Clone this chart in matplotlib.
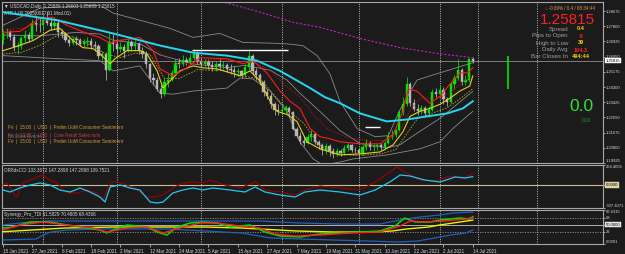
import numpy as np
import pandas as pd
import matplotlib
matplotlib.use("Agg")
import matplotlib.pyplot as plt

plt.rcParams['font.family'] = ['Liberation Sans', 'DejaVu Sans']

# ---------------------------------------------------------------- data
dates = pd.bdate_range("2021-01-15", "2021-07-14")          # 129 daily bars
first_open = 1.2700
closes = [
    1.2740, 1.2745, 1.2720, 1.2660, 1.2665, 1.2715, 1.2730, 1.2705, 1.2800, 1.2790,
    1.2785, 1.2815, 1.2800, 1.2780, 1.2800, 1.2745, 1.2735, 1.2700, 1.2685, 1.2705,
    1.2700, 1.2680, 1.2690, 1.2695, 1.2670, 1.2665, 1.2610, 1.2620, 1.2530, 1.2690,
    1.2680, 1.2650, 1.2660, 1.2640, 1.2690, 1.2665, 1.2680, 1.2640, 1.2620, 1.2560,
    1.2480, 1.2470, 1.2420, 1.2390, 1.2460, 1.2470, 1.2510, 1.2570, 1.2565, 1.2585,
    1.2575, 1.2595, 1.2620, 1.2580, 1.2565, 1.2575, 1.2555, 1.2545, 1.2560, 1.2550,
    1.2555, 1.2535, 1.2530, 1.2515, 1.2520, 1.2500, 1.2545, 1.2610, 1.2520, 1.2500,
    1.2460, 1.2400, 1.2380, 1.2330, 1.2300, 1.2290, 1.2300, 1.2310, 1.2285, 1.2190,
    1.2150, 1.2120, 1.2110, 1.2140, 1.2160, 1.2115, 1.2095, 1.2070, 1.2090, 1.2060,
    1.2045, 1.2060, 1.2050, 1.2080, 1.2095, 1.2070, 1.2065, 1.2050, 1.2085, 1.2110,
    1.2085, 1.2090, 1.2095, 1.2085, 1.2105, 1.2150, 1.2155, 1.2180, 1.2285, 1.2330,
    1.2450, 1.2340, 1.2305, 1.2290, 1.2310, 1.2280, 1.2300, 1.2400, 1.2390, 1.2415,
    1.2360, 1.2345, 1.2445, 1.2480, 1.2530, 1.2460, 1.2470, 1.25889, 1.25815,
]
highs = [
    1.2760, 1.2770, 1.2760, 1.2735, 1.2690, 1.2725, 1.2760, 1.2745, 1.2820, 1.2840,
    1.2830, 1.2845, 1.2870, 1.2835, 1.2830, 1.2815, 1.2765, 1.2750, 1.2715, 1.2720,
    1.2725, 1.2710, 1.2705, 1.2720, 1.2715, 1.2695, 1.2680, 1.2640, 1.2630, 1.2740,
    1.2735, 1.2700, 1.2690, 1.2680, 1.2715, 1.2700, 1.2700, 1.2690, 1.2660, 1.2635,
    1.2570, 1.2510, 1.2490, 1.2450, 1.2485, 1.2510, 1.2530, 1.2590, 1.2595, 1.2615,
    1.2605, 1.2620, 1.2650, 1.2635, 1.2600, 1.2590, 1.2590, 1.2580, 1.2580, 1.2590,
    1.2580, 1.2570, 1.2565, 1.2550, 1.2540, 1.2530, 1.2560, 1.2650, 1.2620, 1.2540,
    1.2510, 1.2470, 1.2420, 1.2395, 1.2345, 1.2330, 1.2320, 1.2325, 1.2320, 1.2290,
    1.2200, 1.2170, 1.2150, 1.2160, 1.2180, 1.2170, 1.2125, 1.2110, 1.2105, 1.2100,
    1.2080, 1.2080, 1.2075, 1.2095, 1.2110, 1.2100, 1.2085, 1.2080, 1.2100, 1.2130,
    1.2120, 1.2100, 1.2110, 1.2110, 1.2120, 1.2170, 1.2180, 1.2190, 1.2300, 1.2375,
    1.2487, 1.2460, 1.2360, 1.2330, 1.2325, 1.2320, 1.2320, 1.2420, 1.2425, 1.2440,
    1.2430, 1.2375, 1.2460, 1.2500, 1.2590, 1.2540, 1.2500, 1.2600, 1.26003,
]
lows = [
    1.2680, 1.2715, 1.2700, 1.2640, 1.2620, 1.2650, 1.2690, 1.2690, 1.2700, 1.2755,
    1.2750, 1.2760, 1.2790, 1.2760, 1.2765, 1.2720, 1.2710, 1.2690, 1.2665, 1.2670,
    1.2675, 1.2665, 1.2660, 1.2665, 1.2650, 1.2640, 1.2590, 1.2580, 1.2468, 1.2520,
    1.2640, 1.2620, 1.2630, 1.2600, 1.2630, 1.2640, 1.2635, 1.2620, 1.2600, 1.2540,
    1.2460, 1.2440, 1.2405, 1.2365, 1.2380, 1.2430, 1.2465, 1.2500, 1.2540, 1.2550,
    1.2555, 1.2565, 1.2585, 1.2560, 1.2545, 1.2550, 1.2535, 1.2525, 1.2520, 1.2530,
    1.2535, 1.2515, 1.2505, 1.2490, 1.2495, 1.2480, 1.2490, 1.2530, 1.2500, 1.2470,
    1.2440, 1.2380, 1.2360, 1.2310, 1.2270, 1.2270, 1.2270, 1.2275, 1.2265, 1.2180,
    1.2135, 1.2100, 1.2090, 1.2100, 1.2120, 1.2100, 1.2075, 1.2040, 1.2045, 1.2030,
    1.2020, 1.2030, 1.2030, 1.2040, 1.2060, 1.2055, 1.2050, 1.2015, 1.2040, 1.2070,
    1.2065, 1.2060, 1.2070, 1.2065, 1.2070, 1.2100, 1.2130, 1.2140, 1.2170, 1.2270,
    1.2320, 1.2320, 1.2290, 1.2270, 1.2275, 1.2260, 1.2260, 1.2290, 1.2370, 1.2370,
    1.2330, 1.2320, 1.2340, 1.2420, 1.2470, 1.2440, 1.2440, 1.2460, 1.25689,
]
opens = [first_open] + closes[:-1]

# overlay lines on the price chart: (bar index, price)
ma_cyan_x = [0, 14.7, 30, 42.8, 51.8, 61, 69.2, 75.5, 83.7, 87.7, 91.8, 97.3, 104.6, 110, 115.5, 121, 125.3, 128]
ma_cyan_y = [1.2862, 1.2815, 1.2739, 1.2669, 1.2628, 1.2611, 1.2582, 1.2523, 1.2424, 1.2372, 1.2337, 1.2278,
             1.2232, 1.2243, 1.2261, 1.2278, 1.2307, 1.2348]
ma_magenta_x = [51, 60, 70, 79, 86.4, 97.3, 108.2, 119, 128]
ma_magenta_y = [1.2937, 1.2920, 1.2862, 1.2803, 1.2774, 1.2710, 1.2657, 1.2622, 1.2599]
red_x = [0, 4.6, 10.1, 13.6, 17.4, 22.9, 26.4, 29.2, 31.9, 37.3, 40.9, 42.8, 46.3, 50.1, 53.7, 61, 65.4, 68.1,
         71.9, 75.5, 78.2, 80.9, 83.7, 86.4, 89.1, 91.8, 97.3, 102.7, 106.3, 109, 110.4, 112.8, 116.3, 119.1,
         121.8, 124.5, 126.7, 128]
red_y = [1.2745, 1.2751, 1.2827, 1.2832, 1.2786, 1.2739, 1.2716, 1.2681, 1.2698, 1.2716, 1.2640, 1.2535, 1.2494,
         1.2541, 1.2599, 1.2593, 1.2564, 1.2582, 1.2512, 1.2407, 1.2348, 1.2307, 1.2191, 1.2144, 1.2132, 1.2115,
         1.2103, 1.2103, 1.2156, 1.2290, 1.2418, 1.2407, 1.2337, 1.2377, 1.2447, 1.2512, 1.2512, 1.2541]
red_dot_x = [0, 6, 12, 16, 21, 26, 30, 34, 39, 43, 47, 52, 58, 64, 69, 73, 77, 81, 85, 89, 94, 100, 105, 108,
             111, 114, 118, 122, 126, 128]
red_dot_y = [1.2760, 1.2770, 1.2815, 1.2820, 1.2780, 1.2735, 1.2700, 1.2705, 1.2700, 1.2620, 1.2560, 1.2570,
             1.2590, 1.2580, 1.2570, 1.2520, 1.2440, 1.2370, 1.2260, 1.2180, 1.2140, 1.2120, 1.2125, 1.2170,
             1.2300, 1.2370, 1.2360, 1.2400, 1.2470, 1.2500]
yel_x = [0, 2.7, 8.2, 12.8, 15.5, 19.1, 21.8, 24.5, 26.4, 29.2, 30.5, 33.8, 37.3, 39.2, 42, 43.6, 45.5, 48.2,
         51.8, 54.5, 58.3, 61.9, 64.6, 67.3, 70, 72.8, 74.7, 77.4, 80.1, 82.8, 86.4, 89.1, 91.8, 97.3, 102.7,
         106.3, 109, 110.9, 113.6, 116.3, 119.1, 121.8, 124.5, 127.2, 128]
yel_y = [1.2640, 1.2657, 1.2698, 1.2757, 1.2768, 1.2698, 1.2657, 1.2652, 1.2622, 1.2564, 1.2593, 1.2640, 1.2640,
         1.2622, 1.2523, 1.2424, 1.2465, 1.2523, 1.2552, 1.2541, 1.2535, 1.2512, 1.2494, 1.2523, 1.2465, 1.2348,
         1.2290, 1.2272, 1.2232, 1.2115, 1.2074, 1.2056, 1.2039, 1.2045, 1.2056, 1.2097, 1.2173, 1.2261, 1.2290,
         1.2307, 1.2331, 1.2366, 1.2407, 1.2436, 1.2494]
yel_dash_x = [0, 5, 10, 15, 19, 24, 28, 32, 36, 40, 44, 48, 53, 60, 66, 70, 74, 78, 82, 86, 90, 96, 103, 107,
              110, 113, 117, 121, 125, 128]
yel_dash_y = [1.2620, 1.2630, 1.2670, 1.2730, 1.2720, 1.2670, 1.2620, 1.2600, 1.2625, 1.2620, 1.2480, 1.2480,
              1.2530, 1.2525, 1.2490, 1.2480, 1.2380, 1.2290, 1.2220, 1.2100, 1.2050, 1.2035, 1.2045, 1.2070,
              1.2160, 1.2250, 1.2280, 1.2310, 1.2370, 1.2420]
bb_up_x = [0, 10.1, 26.4, 30, 37.3, 45.5, 51.8, 59.1, 65.4, 76.3, 81.7, 85.6, 89.1, 91.8, 96.5, 101.4, 105,
           108.2, 112.8, 116.3, 122.6, 128]
bb_up_y = [1.2786, 1.2885, 1.2902, 1.2856, 1.2815, 1.2768, 1.2716, 1.2739, 1.2687, 1.2681, 1.2669, 1.2611,
           1.2506, 1.2348, 1.2191, 1.2144, 1.2150, 1.2300, 1.2470, 1.2494, 1.2535, 1.2570]
bb_mid_x = [0, 10, 20, 26.4, 30, 37.3, 42.8, 51.8, 61, 66, 72.8, 77.4, 80.9, 86.4, 91.8, 97.3, 104.6, 108.2,
            113.6, 119.1, 128]
bb_mid_y = [1.2730, 1.2725, 1.2745, 1.2735, 1.2700, 1.2680, 1.2615, 1.2563, 1.2542, 1.2555, 1.2527, 1.2470,
            1.2395, 1.2289, 1.2180, 1.2105, 1.2079, 1.2098, 1.2175, 1.2250, 1.2405]
bb_lo_x = [0, 10.1, 26.4, 30, 37.3, 42.8, 46.3, 51.8, 61, 64.6, 68.1, 72.8, 77.4, 80.9, 84.5, 87.2, 91.8, 95.4,
           104.6, 113.6, 119.1, 122.6, 126.4, 128]
bb_lo_y = [1.2611, 1.2599, 1.2582, 1.2523, 1.2552, 1.2395, 1.2389, 1.2407, 1.2424, 1.2482, 1.2477, 1.2407,
           1.2290, 1.2115, 1.2016, 1.1981, 1.1998, 1.2016, 1.2039, 1.2074, 1.2115, 1.2191, 1.2261, 1.2290]
hlines_level = [1.2644, 1.2201]          # drawn trend/level lines
hlines_from = [51.5, 98.6]
hlines_to = [77.7, 102.7]
extra_separators = [129.4, 145.5]
range_bar_x = 137.6
range_bar_lo, range_bar_hi = 1.2418, 1.2611

price_ticks = [1.28675, 1.27800, 1.26925, 1.26050, 1.25175, 1.24300, 1.23425, 1.22550, 1.21675, 1.20800, 1.19925]
price_min, price_max = 1.19925, 1.2920

# CCI sub-window: (bar, value)
cci_blue_x = [0, 1.9, 4.6, 7.4, 10.1, 12.8, 15.5, 18.3, 21, 23.7, 26.4, 27.8, 29.2, 31.9, 34.6, 37.3, 40.1, 42,
              43.6, 46.3, 49, 51.8, 54.5, 57.2, 61.9, 65.9, 68.7, 71.4, 75.5, 79.6, 82.3, 86.4, 91.8, 97.3, 101.4,
              105.4, 108.2, 110.9, 114.9, 119.1, 123.2, 125.9, 128]
cci_blue_y = [-67.9, -94.4, -41.3, -1.4, 25.2, -1.4, -67.9, -94.4, -41.3, -94.4, -160.9, -227.3, -28, -1.4, -41.3,
              -67.9, -227.3, -240.6, -227.3, -107.7, -67.9, -41.3, -67.9, -41.3, -67.9, -94.4, -28, -94.4, -134.3,
              -160.9, -94.4, -67.9, -94.4, -134.3, -67.9, 38.5, 131.5, 118.2, 65.1, 38.5, 104.9, 91.6, 109.75]
cci_red_x = [0, 1.1, 2.7, 3.8, 5.4, 7.4, 9.3, 10.9, 12.8, 14.7, 17.4, 20.2, 22.9, 25.6, 27.2, 29.2, 31.1, 33.8,
             36.5, 39.2, 40.9, 43.6, 46.3, 49, 51.8, 54.5, 56.4, 60.5, 64.6, 68.7, 71.4, 75.5, 79.6, 82.3, 86.4,
             91.8, 97.3, 101.4, 105.4, 107.4, 109.5, 113.6, 117.7, 121.8, 125.3, 128]
cci_red_y = [-1.4, 25.2, -107.7, -160.9, 25.2, 65.1, 104.9, 131.5, 65.1, 25.2, -107.7, -107.7, -67.9, -107.7,
             -200.8, 38.5, 38.5, -1.4, -67.9, -160.9, -160.9, -134.3, -41.3, 25.2, 38.5, 25.2, 65.1, -1.4, -41.3,
             38.5, -67.9, -94.4, -134.3, -67.9, -14.7, -41.3, -67.9, 38.5, 171.4, 237.8, 171.4, 65.1, 51.8,
             118.2, 91.6, 147.29]
cci_min, cci_max = -307.1071, 264.4055

# Synergy TDI sub-window: (bar, value)
tdi_green_x = [0, 2.7, 7.4, 12.8, 17.4, 22.9, 26.4, 28.3, 30, 33.8, 39.2, 42, 44.7, 47.4, 51, 54.5, 58.3, 61.9,
               67.3, 71.4, 75.5, 80.9, 86.4, 91.8, 97.3, 102.7, 106.8, 109.5, 112.3, 116.3, 119.1, 121.8, 124.5,
               127.2, 128]
tdi_green_y = [41.2, 43.8, 56.7, 56.7, 49, 41.2, 36.1, 28.3, 36.1, 49, 43.8, 30.9, 23.2, 43.8, 54.1, 56.7, 54.1,
               43.8, 49, 30.9, 20.6, 18, 25.8, 28.3, 30.9, 33.5, 46.4, 67, 56.7, 56.7, 61.8, 64.4, 67, 64.4, 70.48]
tdi_red_x = [0, 4.6, 10.9, 17.4, 24.5, 28.3, 33.8, 39.2, 43.6, 48.2, 53.7, 58.3, 64.6, 70, 74.1, 79.6, 86.4, 94.6,
             102.7, 108.2, 110.9, 115, 120.4, 125.9, 128]
tdi_red_y = [36.1, 49, 56.7, 49, 41.2, 30.9, 41.2, 43.8, 28.3, 41.2, 54.1, 54.1, 46.4, 41.2, 25.8, 20.6, 23.2,
             28.3, 30.9, 46.4, 59.3, 56.7, 59.3, 64.4, 68.44]
tdi_up_x = [0, 4.6, 8.2, 12.8, 70, 80.9, 91.8, 102.7, 108.2, 113.6, 119.1, 122.6, 128]
tdi_up_y = [49, 54.1, 56.7, 59.3, 59.3, 54.1, 51.5, 51.5, 61.8, 69.6, 74.7, 79.9, 82.5]
tdi_lo_x = [0, 9, 11, 13, 17.4, 26.4, 45, 55, 65, 73, 81, 108, 113, 119, 122, 126, 128]
tdi_lo_y = [10.3, 12.9, 23.2, 30.9, 36.1, 38.7, 38.7, 33.5, 28.3, 15.5, 12.9, 5.2, 7.7, 18, 23.2, 28.3, 36]
tdi_base_x = [0, 8, 17, 30, 55, 65, 70, 80, 90, 100, 106, 110, 116, 119, 128]
tdi_base_y = [31.7, 36.1, 41.2, 43.8, 43.8, 41.2, 38.7, 33.5, 30.9, 30.9, 33.5, 38.7, 43.8, 49, 61.58]
tdi_levels = [68, 50, 32]
tdi_min, tdi_max = 0.0001, 87.6315

date_labels = ["15 Jan 2021", "27 Jan 2021", "8 Feb 2021", "18 Feb 2021", "2 Mar 2021", "12 Mar 2021",
               "24 Mar 2021", "5 Apr 2021", "15 Apr 2021", "27 Apr 2021", "7 May 2021", "19 May 2021",
               "31 May 2021", "10 Jun 2021", "22 Jun 2021", "2 Jul 2021", "14 Jul 2021"]
label_step = 8

# ---------------------------------------------------------------- style
W, H = 625, 254
BG = '#1b1b1b'
FRAME = '#a8a8a8'
TXT = '#d8d8d8'
BULL = '#00e600'
BEAR = '#b8b8b8'
FS = 3.3
FSR = 3.0

fig = plt.figure(figsize=(W / 100, H / 100), dpi=100, facecolor=BG)


def box(l, t, r, b):
    return [l / W, 1 - b / H, (r - l) / W, (b - t) / H]


ax = fig.add_axes(box(2, 2, 603, 163))
axc = fig.add_axes(box(2, 165, 603, 208), sharex=ax)
axs = fig.add_axes(box(2, 210, 603, 244), sharex=ax)

for a in (ax, axc, axs):
    a.set_facecolor(BG)
    for s in a.spines.values():
        s.set_color(FRAME)
        s.set_linewidth(0.8)
    a.yaxis.tick_right()
    a.tick_params(axis='y', colors=TXT, labelsize=FSR, length=1.5, width=0.5, pad=0.8)
    a.tick_params(axis='x', colors=TXT, labelsize=FS, length=2, width=0.5, pad=1.5)

ax.set_xlim(-0.27, 163.5)

# month separators
month_starts = [i for i in range(1, len(dates)) if dates[i].month != dates[i - 1].month]
for a in (ax, axc, axs):
    for m in month_starts + extra_separators:
        a.axvline(m, color='#d0d0d0', lw=0.6, ls=(0, (1.2, 1.6)), zorder=1)

# ---------------------------------------------------------------- price
idx = np.arange(len(closes))
o = np.array(opens)
c = np.array(closes)
h = np.array(highs)
l = np.array(lows)
up = c >= o
cols = np.where(up, BULL, BEAR)
for bx, by in ((bb_up_x, bb_up_y), (bb_mid_x, bb_mid_y), (bb_lo_x, bb_lo_y)):
    ax.plot(bx, by, color='#8a8a8a', lw=0.6, zorder=2)
ax.plot(ma_magenta_x, ma_magenta_y, color='#c020c0', lw=0.8, ls=(0, (2, 1.5)), zorder=2)
ax.axhline(closes[-1], color='#8c8c8c', lw=0.6, zorder=2)
ax.vlines(idx, l, h, colors=cols, lw=0.55, zorder=3)
ax.bar(idx, np.abs(c - o), bottom=np.minimum(o, c), width=0.62, color=cols, edgecolor=cols, lw=0.3, zorder=4)
ax.plot(yel_dash_x, yel_dash_y, color='#b0a020', lw=0.6, ls=(0, (2, 1.5)), zorder=5)
ax.plot(yel_x, yel_y, color='#e0d020', lw=0.8, zorder=5)
ax.plot(red_dot_x, red_dot_y, color='#c01010', lw=0.6, ls=(0, (1.5, 1.5)), zorder=5)
ax.plot(red_x, red_y, color='#ff1a1a', lw=0.8, zorder=5)
ax.plot(ma_cyan_x, ma_cyan_y, color='#22d8f0', lw=1.4, zorder=6)
ax.hlines(hlines_level, hlines_from, hlines_to, colors='white', lw=1.0, zorder=6)
ax.vlines([range_bar_x], [range_bar_lo], [range_bar_hi], colors=BULL, lw=1.2, zorder=6)

ax.set_ylim(price_min, price_max)
ax.set_yticks(price_ticks)
ax.set_yticklabels([f"{v:.5f}" for v in price_ticks])
ax.get_yticklabels()[-1].set_va('bottom')
ax.annotate(f"{closes[-1]:.5f}", xy=(1.0, closes[-1]), xycoords=('axes fraction', 'data'),
            xytext=(2.2, 0), textcoords='offset points', va='center', ha='left', fontsize=FSR, color='black',
            bbox=dict(boxstyle='square,pad=0.15', fc='white', ec='white', lw=0.3))
plt.setp(ax.get_xticklabels(), visible=False)
ax.tick_params(axis='x', length=0)

# header texts
ax.text(0.004, 0.985, "\u25bc USDCAD,Daily  1.25889 1.26003 1.25689 1.25815", transform=ax.transAxes,
        fontsize=FS, color=TXT, va='top', ha='left')
ax.text(0.004, 0.945, "ATR 1-00 2005(0017.01 Mod.01)", transform=ax.transAxes,
        fontsize=FS, color=TXT, va='top', ha='left')

# calendar texts
ev_y = [128, 135, 142]
ev_txt = ["Fri  |  15:00  |  USD  |  Prelim UoM Consumer Sentiment",
          "Fri  |  13:30  |  USD  |  Core Retail Sales m/m",
          "Fri  |  15:00  |  USD  |  Prelim UoM Consumer Sentiment"]
ev_col = ['#d89a3a', '#d83a3a', '#d89a3a']
for yy, t, cc in zip(ev_y, ev_txt, ev_col):
    fig.text(8 / W, 1 - yy / H, t, fontsize=FS, color=cc, va='center', ha='left')
fig.text(8 / W, 1 - 136.5 / H, "No More Events", fontsize=FS, color='#808080', va='center', ha='left', alpha=0.8)

# info panel
fig.text(595 / W, 1 - 8 / H, "\u2193 -0.09% / 0.4 / 08:34:44", fontsize=FS, color='#d89a50', ha='right', va='center')
fig.text(595 / W, 1 - 20 / H, f"{closes[-1]:.5f}", fontsize=11, color='#ff2020', ha='right', va='center')
info_lab = ["Spread", "Pips to Open", "High to Low", "Daily Avg", "Bar Closes In"]
info_val = ["0.4", "-5", "39", "104.3", "494:44"]
info_col = ['#f0d000', '#ff2020', '#f0d000', '#ff2020', '#f0d000']
for k, (lab, val, vc) in enumerate(zip(info_lab, info_val, info_col)):
    yy = 29 + 7 * k
    fig.text(568 / W, 1 - yy / H, lab, fontsize=4.4, color='#a0a0a0', ha='right', va='center')
    fig.text(581 / W, 1 - yy / H, val, fontsize=4.0, color=vc, ha='center', va='center', weight='bold')
fig.text(581.5 / W, 1 - 107 / H, "0.0", fontsize=12.5, color='#33e033', ha='center', va='center')
fig.text(586 / W, 1 - 120 / H, "0.0", fontsize=4.6, color='#22a022', ha='center', va='center')

# ---------------------------------------------------------------- CCI
axc.axhline(0, color='#cdbf90', lw=0.8, zorder=2)
axc.plot(cci_red_x, cci_red_y, color='#a00000', lw=0.8, zorder=3)
axc.plot(cci_blue_x, cci_blue_y, color='#1ec8f5', lw=0.9, zorder=4)
axc.set_ylim(cci_min, cci_max)
axc.set_yticks([cci_max, 0, cci_min])
axc.set_yticklabels([f"{cci_max:.4f}", "", f"{cci_min:.4f}"])
axc.get_yticklabels()[0].set_va('top')
axc.get_yticklabels()[2].set_va('bottom')
axc.annotate("0.0000", xy=(1.0, 0), xycoords=('axes fraction', 'data'), xytext=(2.2, 0),
             textcoords='offset points', va='center', ha='left', fontsize=FSR, color='black',
             bbox=dict(boxstyle='square,pad=0.15', fc='#e0d4a8', ec='#e0d4a8', lw=0.3))
axc.text(0.004, 0.93, "OR8dsCCI 133.3672 147.2898 147.2898 109.7521", transform=axc.transAxes,
         fontsize=FS, color=TXT, va='top', ha='left')
plt.setp(axc.get_xticklabels(), visible=False)
axc.tick_params(axis='x', length=0)

# ---------------------------------------------------------------- Synergy TDI
for lv in tdi_levels:
    if lv == 50:
        axs.axhline(lv, color='#c8c8c8', lw=0.6, zorder=2)
    else:
        axs.axhline(lv, color='#909090', lw=0.6, ls=(0, (1.5, 1.5)), zorder=2)
axs.plot(tdi_up_x, tdi_up_y, color='#2060c0', lw=0.9, zorder=3)
axs.plot(tdi_lo_x, tdi_lo_y, color='#2060c0', lw=0.9, zorder=3)
axs.plot(tdi_base_x, tdi_base_y, color='#f0f000', lw=1.0, zorder=4)
axs.plot(tdi_green_x, tdi_green_y, color='#00e000', lw=1.1, zorder=5)
axs.plot(tdi_red_x, tdi_red_y, color='#ff2020', lw=1.0, zorder=6)
axs.set_ylim(tdi_min, tdi_max)
axs.set_yticks([tdi_max, 68, 50, 32, tdi_min])
axs.set_yticklabels([f"{tdi_max:.4f}", "68", "", "32", f"{tdi_min:.4f}"])
axs.get_yticklabels()[0].set_va('top')
axs.get_yticklabels()[4].set_va('bottom')
axs.annotate("50.0000", xy=(1.0, 50), xycoords=('axes fraction', 'data'), xytext=(2.2, 0),
             textcoords='offset points', va='center', ha='left', fontsize=FSR, color='black',
             bbox=dict(boxstyle='square,pad=0.15', fc='#e8e8e8', ec='#e8e8e8', lw=0.3))
axs.text(0.004, 0.93, "Synergy_Pro_TDI 61.5829 70.4805 68.4366", transform=axs.transAxes,
         fontsize=FS, color=TXT, va='top', ha='left')

label_idx = list(range(0, len(dates), label_step))
axs.set_xticks(label_idx)
axs.set_xticklabels(date_labels, ha='left')

fig.savefig("out.png", dpi=100, facecolor=BG)
